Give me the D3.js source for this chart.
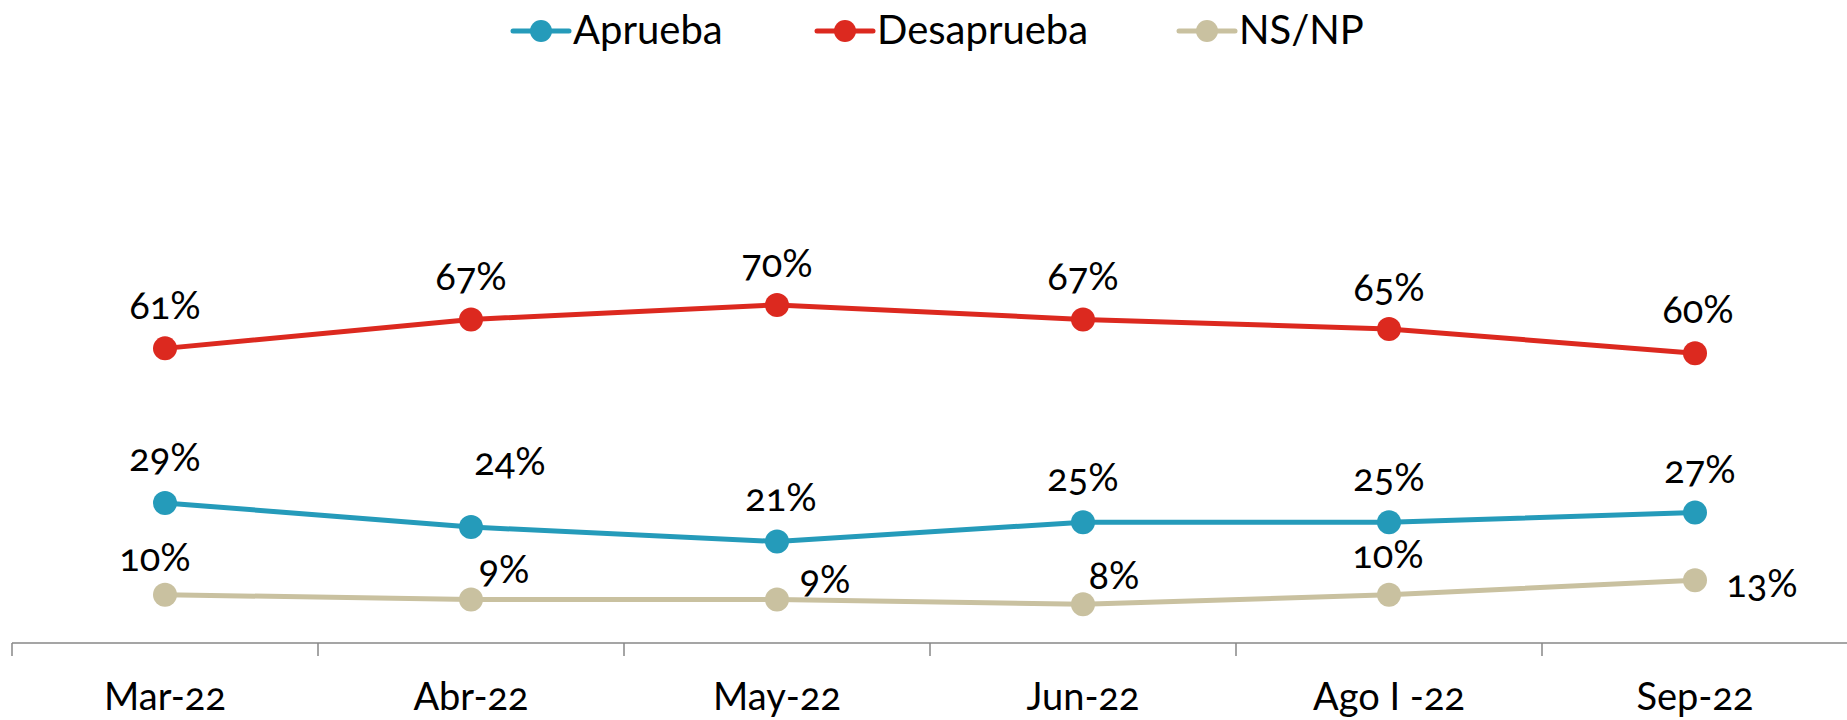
<!DOCTYPE html>
<html>
<head>
<meta charset="utf-8">
<script src="https://cdn.jsdelivr.net/npm/d3@7"></script>
<style>
  html, body { margin: 0; padding: 0; background: #ffffff; }
  svg { display: block; }
  text { font-family: Lato, "Open Sans", sans-serif; fill: #000; font-variant-numeric: oldstyle-nums; }
</style>
</head>
<body>
<svg id="chart" width="1847" height="720"></svg>
<script>
// ---- data ----
const categories = ["Mar-22", "Abr-22", "May-22", "Jun-22", "Ago I -22", "Sep-22"];
const seriesNames = ["Aprueba", "Desaprueba", "NS/NP"];
const aprueba    = [29, 24, 21, 25, 25, 27];
const desaprueba = [61, 67, 70, 67, 65, 60];
const nsnp       = [10, 9, 9, 8, 10, 13];

// ---- label placement (layout only) ----
const labelOffsets = {
  "Aprueba":    [[0,-32],[39,-52],[4,-31],[0,-31],[0,-31],[5,-30]],
  "Desaprueba": [[0,-29],[0,-29],[0,-28],[0,-29],[0,-28],[3,-30]],
  "NS/NP":      [[-10,-24],[33,-17],[48,-7],[31,-15],[-1,-27],[67,17]]
};
const colors = {"Aprueba": "#259BBA", "Desaprueba": "#DC291F", "NS/NP": "#C9C1A0"};

const series = [
  {name: seriesNames[0], values: aprueba},
  {name: seriesNames[1], values: desaprueba},
  {name: seriesNames[2], values: nsnp}
];

const svg = d3.select("#chart");
const x = d3.scaleBand().domain(categories).range([12, 1848]).padding(0);
const y = d3.scaleLinear().domain([0, 100]).range([643, 160]);

// axis
const axisG = svg.append("g").attr("transform", "translate(0,643)");
const xAxis = d3.axisBottom(x).tickSize(0).tickSizeOuter(0);
axisG.call(xAxis);
axisG.select(".domain").remove();
axisG.append("line")
  .attr("x1", 12).attr("x2", 1847).attr("y1", 0).attr("y2", 0)
  .attr("stroke", "#878787").attr("stroke-width", 1.5);
axisG.selectAll(".tickmark")
  .data(categories)
  .join("line")
  .attr("class", "tickmark")
  .attr("x1", d => x(d)).attr("x2", d => x(d))
  .attr("y1", 0).attr("y2", 13)
  .attr("stroke", "#878787").attr("stroke-width", 1.5);
axisG.selectAll(".tick text")
  .attr("y", 67).attr("dy", 0)
  .style("font-size", "38px")
  .style("font-family", "Lato, 'Open Sans', sans-serif")
  .attr("fill", "#000");

// lines
const line = d3.line()
  .x((d, i) => x(categories[i]) + x.bandwidth() / 2)
  .y(d => y(d));

const sg = svg.append("g").selectAll("g.series").data(series).join("g").attr("class", "series");
sg.append("path")
  .attr("d", d => line(d.values))
  .attr("fill", "none")
  .attr("stroke", d => colors[d.name])
  .attr("stroke-width", 5)
  .attr("stroke-linejoin", "round");
sg.selectAll("circle")
  .data(d => d.values.map((v, i) => ({v, i, name: d.name})))
  .join("circle")
  .attr("cx", d => x(categories[d.i]) + x.bandwidth() / 2)
  .attr("cy", d => y(d.v))
  .attr("r", 12)
  .attr("fill", d => colors[d.name]);
sg.selectAll("text.lbl")
  .data(d => d.values.map((v, i) => ({v, i, name: d.name})))
  .join("text")
  .attr("class", "lbl")
  .attr("x", d => x(categories[d.i]) + x.bandwidth() / 2 + labelOffsets[d.name][d.i][0])
  .attr("y", d => y(d.v) + labelOffsets[d.name][d.i][1])
  .attr("text-anchor", "middle")
  .style("font-size", "38px")
  .text(d => d.v + "%");

// legend
const legendX = [513, 817, 1179];
const lg = svg.append("g").selectAll("g.leg").data(seriesNames).join("g")
  .attr("class", "leg")
  .attr("transform", (d, i) => `translate(${legendX[i]},31)`);
lg.append("line").attr("x1", 0).attr("x2", 56).attr("y1", 0).attr("y2", 0)
  .attr("stroke", d => colors[d]).attr("stroke-width", 5).attr("stroke-linecap", "round");
lg.append("circle").attr("cx", 28).attr("cy", 0).attr("r", 11).attr("fill", d => colors[d]);
lg.append("text").attr("x", 60).attr("y", 13).style("font-size", "40px").text(d => d);
</script>
</body>
</html>
